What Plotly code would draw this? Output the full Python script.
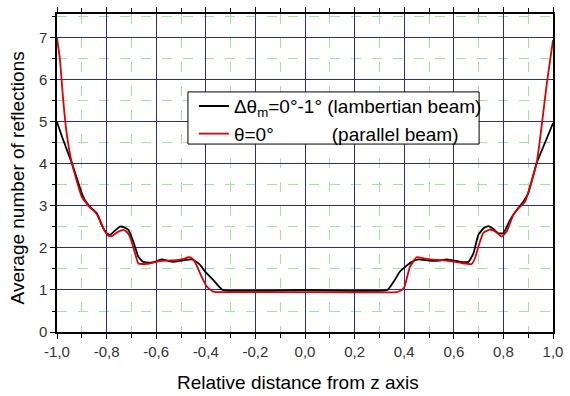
import plotly.graph_objects as go

# Lambertian beam (black)
lamb_x = [-1.0, -0.975, -0.94, -0.90, -0.887, -0.867, -0.84, -0.82, -0.80, -0.786, -0.765, -0.746,
          -0.725, -0.712, -0.69, -0.672, -0.652, -0.625, -0.60, -0.578, -0.555, -0.531, -0.497,
          -0.457, -0.44, -0.423, -0.40, -0.37, -0.332, 0.0, 0.332, 0.36, 0.383, 0.41, 0.43, 0.457,
          0.50, 0.54, 0.571, 0.60, 0.625, 0.659, 0.679, 0.699, 0.72, 0.739, 0.76, 0.779, 0.80,
          0.827, 0.853, 0.88, 0.90, 0.934, 0.961, 1.0]
lamb_y = [5.0, 4.57, 4.02, 3.3, 3.14, 2.98, 2.83, 2.55, 2.35, 2.31, 2.42, 2.51,
          2.48, 2.43, 2.11, 1.79, 1.67, 1.65, 1.68, 1.73, 1.70, 1.67, 1.70,
          1.73, 1.68, 1.60, 1.42, 1.24, 1.0, 1.0, 1.0, 1.22, 1.44, 1.58, 1.67, 1.73,
          1.70, 1.70, 1.73, 1.70, 1.67, 1.67, 1.87, 2.31, 2.47, 2.52, 2.45, 2.35, 2.35,
          2.67, 2.9, 3.1, 3.3, 4.02, 4.41, 4.97]

# Parallel beam (red)
par_x = [-1.0, -0.988, -0.975, -0.961, -0.94, -0.90, -0.867, -0.85, -0.833, -0.813, -0.793, -0.78,
         -0.755, -0.733, -0.718, -0.706, -0.685, -0.672, -0.638, -0.585, -0.55, -0.517, -0.49,
         -0.47, -0.455, -0.444, -0.417, -0.396, -0.37, -0.35, 0.0, 0.37, 0.385, 0.40, 0.423,
         0.45, 0.475, 0.504, 0.571, 0.632, 0.672, 0.685, 0.699, 0.719, 0.746, 0.77, 0.793,
         0.813, 0.84, 0.86, 0.887, 0.934, 0.954, 0.975, 1.0]
par_y = [7.0, 6.48, 5.52, 4.73, 4.02, 3.22, 2.96, 2.88, 2.75, 2.47, 2.29, 2.28,
         2.38, 2.43, 2.38, 2.27, 1.87, 1.63, 1.62, 1.69, 1.70, 1.71, 1.74,
         1.78, 1.75, 1.67, 1.32, 1.08, 0.96, 0.95, 0.95, 0.95, 0.98, 1.06, 1.55,
         1.78, 1.76, 1.73, 1.70, 1.64, 1.62, 1.75, 2.03, 2.36, 2.44, 2.38, 2.27,
         2.39, 2.79, 2.94, 3.1, 4.02, 4.89, 5.92, 6.95]

x_tickvals = [-1.0, -0.8, -0.6, -0.4, -0.2, 0.0, 0.2, 0.4, 0.6, 0.8, 1.0]
x_ticktext = ["-1,0", "-0,8", "-0,6", "-0,4", "-0,2", "0,0", "0,2", "0,4", "0,6", "0,8", "1,0"]
x_minorvals = [-0.9, -0.7, -0.5, -0.3, -0.1, 0.1, 0.3, 0.5, 0.7, 0.9]
y_tickvals = [0, 1, 2, 3, 4, 5, 6, 7]
y_ticktext = ["0", "1", "2", "3", "4", "5", "6", "7"]
y_minorvals = [0.5, 1.5, 2.5, 3.5, 4.5, 5.5, 6.5, 7.5]

x_title = "Relative distance from z axis"
y_title = "Average number of reflections"
name_lamb = "\u0394\u03b8<sub>m</sub>=0\u00b0-1\u00b0 (lambertian beam)"
name_par = "\u03b8=0\u00b0" + "\u00a0" * 11 + "(parallel beam)"

FONT = "Liberation Sans, Arial, sans-serif"

fig = go.Figure()
fig.add_trace(go.Scatter(x=lamb_x, y=lamb_y, mode="lines", name=name_lamb,
                         line=dict(color="#000000", width=1.8, shape="spline", smoothing=0.4)))
fig.add_trace(go.Scatter(x=par_x, y=par_y, mode="lines", name=name_par,
                         line=dict(color="#e00000", width=1.8, shape="spline", smoothing=0.4)))

fig.update_layout(
    width=570, height=396,
    margin=dict(l=57, r=17, t=14, b=64, autoexpand=False),
    paper_bgcolor="white", plot_bgcolor="white",
    font=dict(family=FONT, color="#222222"),
    showlegend=True,
    legend=dict(x=0.276, y=0.770, xanchor="left", yanchor="top",
                bgcolor="rgba(0,0,0,0)", borderwidth=0,
                font=dict(family=FONT, size=19, color="#000000"),
                tracegroupgap=0),
    # legend frame (white box with black border) drawn above the grid
    shapes=[
        dict(type="rect", xref="paper", yref="paper", x0=0.264, x1=0.851, y0=0.591, y1=0.755,
             fillcolor="white", line=dict(color="#000000", width=1), layer="above"),
    ],
    xaxis=dict(
        range=[-1.0, 1.0], tickvals=x_tickvals, ticktext=x_ticktext,
        showline=True, linecolor="#000000", linewidth=1.5, mirror="ticks",
        ticks="outside", ticklen=5, tickcolor="#000000",
        showgrid=True, gridcolor="#2a2aa8", gridwidth=1,
        zeroline=False, automargin=False,
        tickfont=dict(size=15, color="#333333"),
        minor=dict(tickvals=x_minorvals, showgrid=True, gridcolor="#a6e0a6", gridwidth=1,
                   griddash="10px,14px", ticks="outside", ticklen=4, tickcolor="#000000"),
    ),
    yaxis=dict(
        range=[0, 7.57], tickvals=y_tickvals, ticktext=y_ticktext,
        showline=True, linecolor="#000000", linewidth=1.5, mirror=True,
        ticks="outside", ticklen=5, tickcolor="#000000",
        showgrid=True, gridcolor="#2a2aa8", gridwidth=1,
        zeroline=False, automargin=False,
        tickfont=dict(size=15, color="#333333"),
        minor=dict(tickvals=y_minorvals, showgrid=True, gridcolor="#a6e0a6", gridwidth=1,
                   griddash="10px,11px", ticks="outside", ticklen=3, tickcolor="#000000"),
    ),
    annotations=[
        dict(text=x_title, xref="paper", yref="paper", x=0.486, y=-0.16,
             xanchor="center", yanchor="middle", showarrow=False,
             font=dict(family=FONT, size=19, color="#000000")),
        dict(text=y_title, xref="paper", yref="paper", x=-0.08, y=0.484,
             xanchor="center", yanchor="middle", showarrow=False, textangle=-90,
             font=dict(family=FONT, size=19, color="#000000")),
    ],
)

# remove the page's default body margin so the figure sits at the window's top-left corner
fig.write_html("out.html", config={"displayModeBar": False},
               post_script="document.body.style.margin='0';")
